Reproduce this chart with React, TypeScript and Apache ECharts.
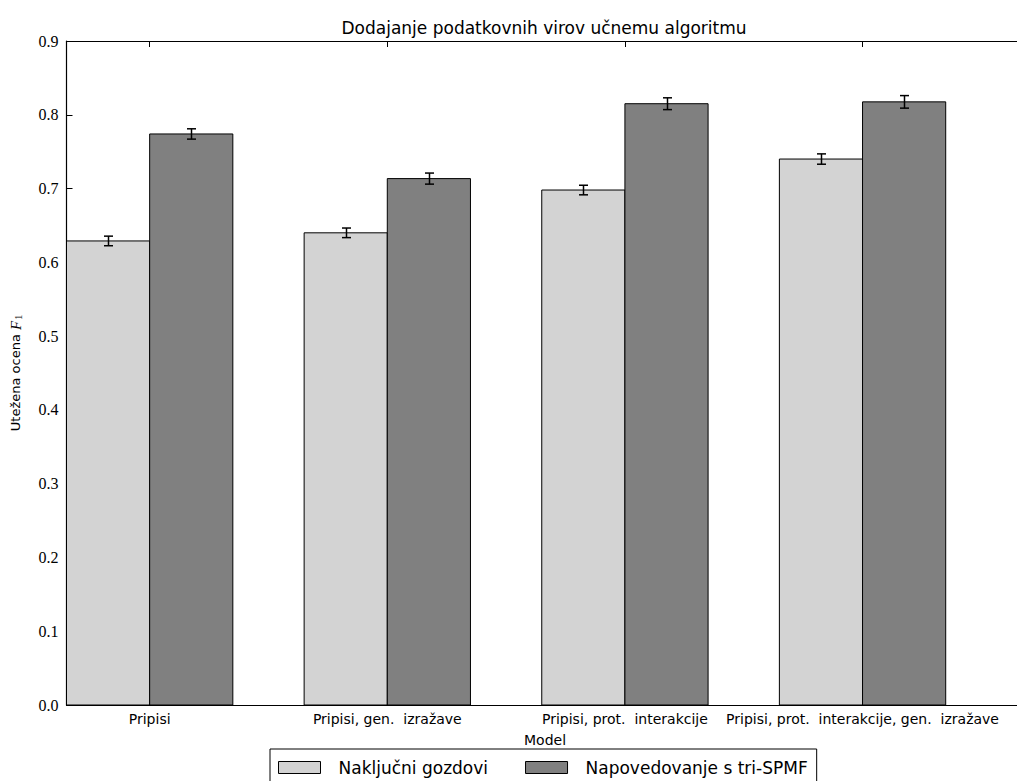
import React, { useEffect, useRef } from "react";
import * as echarts from "echarts";

const categories = [
  "Pripisi",
  "Pripisi, gen.  izražave",
  "Pripisi, prot.  interakcije",
  "Pripisi, prot.  interakcije, gen.  izražave",
];
const seriesNames = ["Naključni gozdovi", "Napovedovanje s tri-SPMF"];
const randomForest = [0.629, 0.640, 0.698, 0.740];
const randomForestErr = [0.0065, 0.0065, 0.0065, 0.007];
const triSpmf = [0.774, 0.7135, 0.815, 0.8175];
const triSpmfErr = [0.007, 0.0075, 0.008, 0.0085];
const yTicks = [0, 0.1, 0.2, 0.3, 0.4, 0.5, 0.6, 0.7, 0.8, 0.9];

const BAR_W = 0.35;
const tickPositions = categories.map((_, i) => i + BAR_W);

const SANS = "DejaVu Sans";
const SERIF = "Liberation Serif";

function barSeries(name: string, values: number[], offset: number, color: string) {
  return {
    type: "custom",
    name,
    xAxisIndex: 0,
    yAxisIndex: 0,
    itemStyle: { color, borderColor: "#000", borderWidth: 1 },
    data: values.map((v, i) => [i, v]),
    renderItem: (params: any, api: any) => {
      const i = api.value(0);
      const v = api.value(1);
      const p0 = api.coord([i + offset, v]);
      const p1 = api.coord([i + offset + BAR_W, 0]);
      return {
        type: "rect",
        shape: { x: p0[0], y: p0[1], width: p1[0] - p0[0], height: p1[1] - p0[1] },
        style: { fill: color, stroke: "#000", lineWidth: 1 },
      };
    },
  };
}

function errSeries(name: string, values: number[], errs: number[], offset: number) {
  return {
    type: "custom",
    name: name + " err",
    xAxisIndex: 0,
    yAxisIndex: 0,
    z: 5,
    data: values.map((v, i) => [i, v, errs[i]]),
    renderItem: (params: any, api: any) => {
      const i = api.value(0);
      const v = api.value(1);
      const e = api.value(2);
      const cx = i + offset + BAR_W / 2;
      const top = api.coord([cx, v + e]);
      const bot = api.coord([cx, v - e]);
      const x = Math.round(top[0]) + 0.5;
      const st = { stroke: "#000", lineWidth: 1.5 };
      return {
        type: "group",
        children: [
          { type: "line", shape: { x1: x, y1: top[1], x2: x, y2: bot[1] }, style: st },
          { type: "line", shape: { x1: x - 4.5, y1: top[1], x2: x + 4.5, y2: top[1] }, style: st },
          { type: "line", shape: { x1: x - 4.5, y1: bot[1], x2: x + 4.5, y2: bot[1] }, style: st },
        ],
      };
    },
  };
}

export default function App() {
  const ref = useRef<HTMLDivElement>(null);
  useEffect(() => {
    if (!ref.current) return;
    const chart = echarts.init(ref.current, null, { renderer: "svg" });
    const option: any = {
      animation: false,
      backgroundColor: "#fff",
      grid: { left: 63, top: 41, width: 963, height: 664, containLabel: false },
      graphic: [
        {
          type: "text",
          x: 544,
          y: 28,
          style: {
            text: "Dodajanje podatkovnih virov učnemu algoritmu",
            font: `17px "${SANS}"`,
            fill: "#000",
            textAlign: "center",
            textVerticalAlign: "middle",
          },
        },
        {
          type: "text",
          x: 545,
          y: 740,
          style: {
            text: "Model",
            font: `14px "${SANS}"`,
            fill: "#000",
            textAlign: "center",
            textVerticalAlign: "middle",
          },
        },
      ],
      legend: {
        left: 270,
        top: 749,
        orient: "horizontal",
        icon: "rect",
        itemWidth: 42,
        itemHeight: 12,
        itemGap: 37,
        padding: [10, 9, 8, 8],
        borderColor: "#000",
        borderWidth: 1,
        borderRadius: 0,
        backgroundColor: "#fff",
        textStyle: { fontFamily: SANS, fontSize: 17, color: "#000", padding: [0, 0, 0, 13] },
        data: [
          { name: seriesNames[0], itemStyle: { color: "#d3d3d3", borderColor: "#000", borderWidth: 1 } },
          { name: seriesNames[1], itemStyle: { color: "#808080", borderColor: "#000", borderWidth: 1 } },
        ],
      },
      xAxis: [
        {
          type: "value",
          min: 0,
          max: 4,
          position: "bottom",
          splitLine: { show: false },
          axisLine: { show: true, onZero: false, lineStyle: { color: "#000", width: 1.2 } },
          axisTick: { show: true, inside: true, length: 6, customValues: tickPositions, lineStyle: { color: "#000" } },
          axisLabel: {
            show: true,
            customValues: tickPositions,
            margin: 7,
            fontFamily: SANS,
            fontSize: 14,
            color: "#000",
            formatter: (v: number) => categories[Math.round(v - BAR_W)] ?? "",
          },
        },
        {
          type: "value",
          min: 0,
          max: 4,
          position: "top",
          splitLine: { show: false },
          axisLine: { show: true, onZero: false, lineStyle: { color: "#000", width: 1.2 } },
          axisTick: { show: true, inside: true, length: 6, customValues: tickPositions, lineStyle: { color: "#000" } },
          axisLabel: { show: false },
        },
      ],
      yAxis: [
        {
          type: "value",
          min: 0,
          max: 0.9,
          interval: 0.1,
          splitLine: { show: false },
          axisLine: { show: true, onZero: false, lineStyle: { color: "#000", width: 1.2 } },
          axisTick: { show: true, inside: true, length: 6, lineStyle: { color: "#000" } },
          axisLabel: {
            margin: 8,
            fontFamily: SERIF,
            fontSize: 16,
            color: "#000",
            customValues: yTicks,
            formatter: (v: number) => v.toFixed(1),
          },
          name: "{a|Utežena ocena }{f|F}{s|1}",
          nameLocation: "middle",
          nameRotate: 90,
          nameGap: 43,
          nameTextStyle: {
            rich: {
              a: { fontFamily: SANS, fontSize: 13, color: "#000" },
              f: { fontFamily: SERIF, fontStyle: "italic", fontSize: 15, color: "#000" },
              s: { fontFamily: SERIF, fontSize: 10, color: "#000", padding: [6, 0, 0, 1] },
            },
          },
        },
      ],
      series: [
        barSeries(seriesNames[0], randomForest, 0, "#d3d3d3"),
        barSeries(seriesNames[1], triSpmf, BAR_W, "#808080"),
        errSeries(seriesNames[0], randomForest, randomForestErr, 0),
        errSeries(seriesNames[1], triSpmf, triSpmfErr, BAR_W),
      ],
    };
    chart.setOption(option);
    return () => chart.dispose();
  }, []);
  return (
    <div
      ref={ref}
      style={{ position: "fixed", left: 0, top: 0, width: 1017, height: 781 }}
    />
  );
}
